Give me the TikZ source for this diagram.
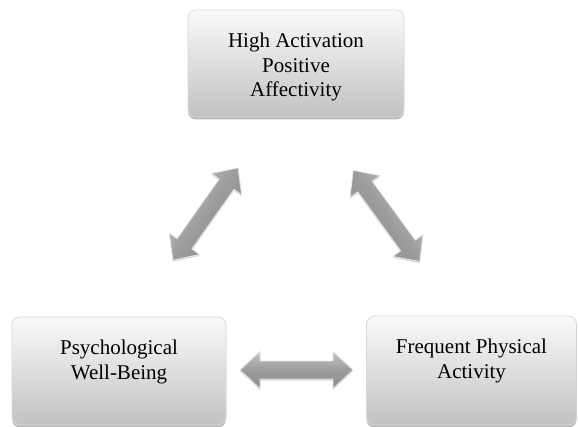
\documentclass[tikz,border=0pt]{standalone}
\usepackage{fontspec}
\setmainfont{Liberation Serif}
\usetikzlibrary{shadows}
\definecolor{boxtop}{HTML}{FAFAFA}
\definecolor{boxbot}{HTML}{C2C2C2}
\definecolor{boxline}{HTML}{D8D8D8}
\definecolor{arrtop}{HTML}{C4C4C4}
\definecolor{arrmid}{HTML}{9C9C9C}
\definecolor{arrbot}{HTML}{8C8C8C}
\tikzset{
  x=1pt, y=1pt,
  gbox/.style={rounded corners=8pt, draw=boxline, line width=0.8pt,
    top color=boxtop, bottom color=boxbot, inner sep=0pt,
    drop shadow={shadow xshift=0pt, shadow yshift=-2.5pt, opacity=0.45, fill=black!60}},
  garrow/.style={draw=black!10, line width=0.8pt, line join=miter,
    top color=arrtop, bottom color=arrbot, middle color=arrmid,
    drop shadow={shadow xshift=0pt, shadow yshift=-1.5pt, opacity=0.3}},
  pics/barrow/.style={code={
    \path[garrow, shading angle=#1, rotate=#1]
      (-56.5,0) -- (-36.5,18.5) -- (-36.5,9) -- (36.5,9) -- (36.5,18.5) -- (56.5,0)
      -- (36.5,-18.5) -- (36.5,-9) -- (-36.5,-9) -- (-36.5,-18.5) -- cycle;
  }}
}
\newcommand{\boxtext}[3]{\parbox[c][#2][t]{#1}{\centering\fontsize{21}{24.5}\selectfont\vspace*{23pt}#3\par}}
\begin{document}
\begin{tikzpicture}
\useasboundingbox (0,0) rectangle (578,426);
\node[gbox] (top) at (296,362.5) {\boxtext{216pt}{107pt}{High Activation\\Positive\\Affectivity}};
\node[gbox] (left) at (119,55) {\boxtext{214pt}{108pt}{Psychological\\Well-Being}};
\node[gbox] (right) at (471.5,55.5) {\boxtext{210pt}{109pt}{Frequent Physical\\Activity}};
\coordinate (ch) at (296.5,56);
\coordinate (cl) at (205.5,212);
\coordinate (cr) at (386.5,210);
\pic at (ch) {barrow=0};
\pic at (cl) {barrow=54.8};
\pic at (cr) {barrow=-53.9};
\end{tikzpicture}
\end{document}
